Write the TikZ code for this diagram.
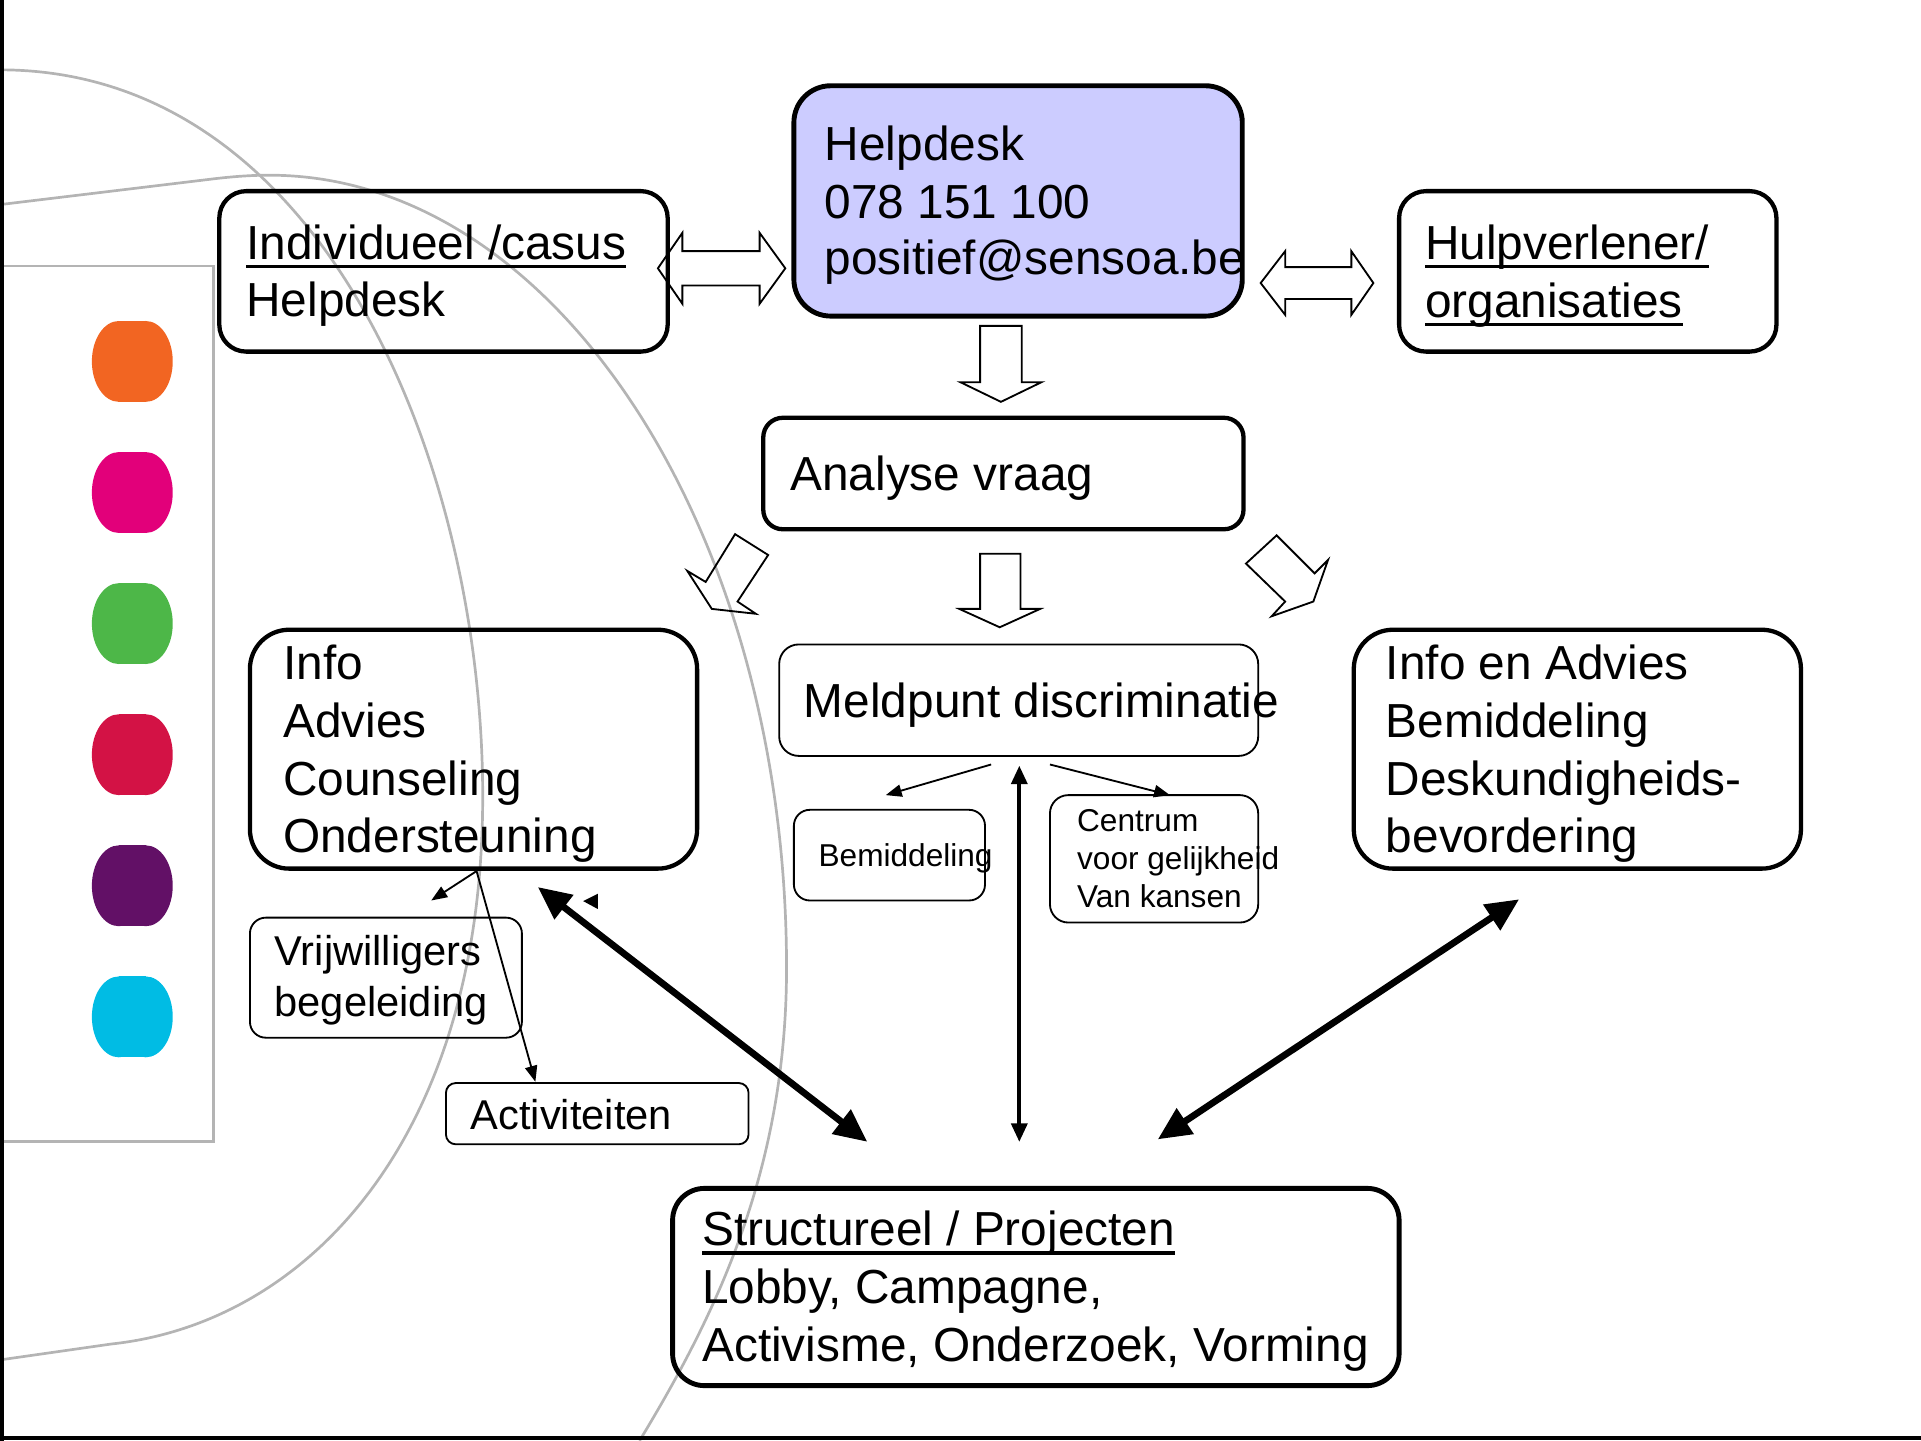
\documentclass[tikz,border=0pt]{standalone}
\usepackage{fontspec}
\setmainfont{Liberation Sans}
\usetikzlibrary{arrows.meta}
\definecolor{lav}{HTML}{CCCCFF}
\definecolor{bggray}{HTML}{B4B4B4}
\definecolor{pOrange}{HTML}{F26522}
\definecolor{pPink}{HTML}{E2007A}
\definecolor{pGreen}{HTML}{4DB748}
\definecolor{pRed}{HTML}{D31245}
\definecolor{pPurple}{HTML}{621066}
\definecolor{pCyan}{HTML}{00BCE4}
\newsavebox\ulbox
\newcommand\ulin[1]{\sbox\ulbox{#1}\rlap{\rule[-7pt]{\wd\ulbox}{2.6pt}}\usebox\ulbox}
\newcommand\szL{\fontsize{39pt}{47pt}\selectfont}
\newcommand\szM{\fontsize{34pt}{42pt}\selectfont}
\newcommand\szS{\fontsize{25.8pt}{31pt}\selectfont}
\newcommand\drawpill[2]{%
  \fill[#1] (97,#2) rectangle (119,#2+66);
  \fill[#1] (97,#2+33) ellipse [x radius=22, y radius=33];
  \fill[#1] (119,#2+33) ellipse [x radius=22, y radius=33];}
\begin{document}
\begin{tikzpicture}[x=1pt,y=-1pt,
  graycurve/.style={draw=bggray, line width=2.2pt},
  thickbox/.style={draw, line width=3.5pt, rounded corners=22pt, inner sep=0pt},
  thinbox/.style={draw, line width=1.5pt, rounded corners=14pt, inner sep=0pt},
  hollow/.style={draw, line width=1.5pt, line join=miter},
  txt/.style={anchor=base west, inner sep=0pt, font=\szL},
  txtM/.style={anchor=base west, inner sep=0pt, font=\szM},
  txtS/.style={anchor=base west, inner sep=0pt, font=\szS},
  bigdbl/.style={line width=5.5pt, {Triangle[length=27pt,width=24pt]}-{Triangle[length=27pt,width=24pt]}},
  middbl/.style={line width=3pt, {Triangle[length=15pt,width=13pt]}-{Triangle[length=15pt,width=13pt]}},
  thinarr/.style={line width=1.5pt, -{Triangle[length=13pt,width=10pt]}}
]
\useasboundingbox (0,0) rectangle (1568,1176);

% background decoration
\draw[graycurve] (0,217) -- (174,217) -- (174,932) -- (0,932);
\draw[graycurve] (0,57) .. controls (265,57) and (394,380) .. (394,650)
  .. controls (394,930) and (250,1080) .. (91,1097) -- (0,1110);
\draw[graycurve] (0,167) -- (170,146.5) .. controls (190,144) and (205,143) .. (220,143)
  .. controls (453,143) and (642,433) .. (642,790)
  .. controls (642,960) and (580,1080) .. (522,1176);

\drawpill{pOrange}{262}
\drawpill{pPink}{369}
\drawpill{pGreen}{476}
\drawpill{pRed}{583}
\drawpill{pPurple}{690}
\drawpill{pCyan}{797}

\draw[line width=3pt] (1.5,0) -- (1.5,1176);
\draw[line width=3pt] (0,1173.5) -- (1568,1173.5);

% boxes
\node[thickbox, minimum width=366pt, minimum height=131pt] (indiv) at (362,221.5) {};
\node[thickbox, line width=4pt, rounded corners=30pt, fill=lav, minimum width=366pt, minimum height=188pt] (help) at (831,164) {};
\node[thickbox, minimum width=308pt, minimum height=131pt] (hulp) at (1296,221.5) {};
\node[thickbox, rounded corners=16pt, minimum width=392pt, minimum height=91pt] (analyse) at (819,386.5) {};
\node[thickbox, rounded corners=32pt, minimum width=365pt, minimum height=195pt] (info) at (386.5,611.5) {};
\node[thinbox, rounded corners=16pt, minimum width=391pt, minimum height=91pt] (meld) at (831.5,571.5) {};
\node[thickbox, rounded corners=32pt, minimum width=365pt, minimum height=195pt] (iea) at (1287.5,611.5) {};
\node[thinbox, rounded corners=13pt, minimum width=156pt, minimum height=74pt] (bemid) at (726,698) {};
\node[thinbox, rounded corners=15pt, minimum width=170pt, minimum height=104pt] (centrum) at (942,701) {};
\node[thinbox, rounded corners=13pt, minimum width=222pt, minimum height=98pt] (vrij) at (315,798) {};
\node[thinbox, rounded corners=8pt, minimum width=247pt, minimum height=50pt] (activ) at (487.5,909) {};
\node[thickbox, line width=4pt, rounded corners=26pt, minimum width=593pt, minimum height=161pt] (struct) at (845.5,1050.5) {};

% texts
\node[txt] (t1a) at (201,212) {\ulin{Individueel /casus}};
\node[txt] (t1b) at (201,258) {Helpdesk};
\node[txt] (t2a) at (673,131) {Helpdesk};
\node[txt] (t2b) at (673,178) {078 151 100};
\node[txt] (t2c) at (673,224) {positief@sensoa.be};
\node[txt] (t3a) at (1163,212) {\ulin{Hulpverlener/}};
\node[txt] (t3b) at (1163,259) {\ulin{organisaties}};
\node[txt] (t4) at (645,400) {Analyse vraag};
\node[txt] (t5a) at (231,555) {Info};
\node[txt] (t5b) at (231,602) {Advies};
\node[txt] (t5c) at (231,649) {Counseling};
\node[txt] (t5d) at (231,696) {Ondersteuning};
\node[txt] (t6) at (656,586) {Meldpunt discriminatie};
\node[txt] (t7a) at (1131,555) {Info en Advies};
\node[txt] (t7b) at (1131,602) {Bemiddeling};
\node[txt] (t7c) at (1131,649) {Deskundigheids-};
\node[txt] (t7d) at (1131,696) {bevordering};
\node[txtS] (t8) at (668,707) {Bemiddeling};
\node[txtS] (t9a) at (879,679) {Centrum};
\node[txtS] (t9b) at (879,710) {voor gelijkheid};
\node[txtS] (t9c) at (879,741) {Van kansen};
\node[txtM] (t10a) at (224,788) {Vrijwilligers};
\node[txtM] (t10b) at (224,830) {begeleiding};
\node[txtM] (t11) at (384,922) {Activiteiten};
\node[txt] (t12a) at (573,1017) {\ulin{Structureel / Projecten}};
\node[txt] (t12b) at (573,1064) {Lobby, Campagne,};
\node[txt] (t12c) at (573,1111) {Activisme, Onderzoek, Vorming};

% hollow block arrows
\draw[hollow] (537,219) -- (557,190) -- (557,205) -- (620,205) -- (620,190) -- (641,219) -- (620,248) -- (620,233) -- (557,233) -- (557,248) -- cycle;
\draw[hollow] (1029,231) -- (1049,205) -- (1049,218) -- (1103,218) -- (1103,205) -- (1121,231) -- (1103,257) -- (1103,244) -- (1049,244) -- (1049,257) -- cycle;
\draw[hollow] (800,266) -- (834,266) -- (834,312) -- (850,312) -- (817,328) -- (784,312) -- (800,312) -- cycle;
\draw[hollow] (800,452) -- (833,452) -- (833,497) -- (849,497) -- (816,512) -- (783,497) -- (800,497) -- cycle;
\draw[hollow] (600,436) -- (627,453) -- (602,491) -- (617,501) -- (581,497) -- (561,466) -- (576,475) -- cycle;
\draw[hollow] (1042,437) -- (1073,468) -- (1084,457) -- (1072,491) -- (1038,503) -- (1049,491) -- (1017,460) -- cycle;

% connectors
\coordinate (m1) at (809,624);
\coordinate (m1e) at (723,649);
\coordinate (m2) at (857,624);
\coordinate (m2e) at (955,649);
\coordinate (vtop) at (832,625);
\coordinate (vbot) at (832,932);
\coordinate (iA) at (389,711);
\coordinate (iAe) at (352,735);
\coordinate (iBe) at (437,883);
\coordinate (dL1) at (439,724);
\coordinate (dL2) at (708,932);
\coordinate (dR1) at (1240,734);
\coordinate (dR2) at (945,930);

\draw[thinarr] (m1) -- (m1e);
\draw[thinarr] (m2) -- (m2e);
\draw[middbl] (vtop) -- (vbot);
\draw[thinarr] (iA) -- (iAe);
\draw[thinarr] (iA) -- (iBe);
\draw[bigdbl] (dL1) -- (dL2);
\draw[bigdbl] (dR1) -- (dR2);
\fill (476,735.5) -- (488,729.5) -- (488,742) -- cycle;
\end{tikzpicture}
\end{document}
